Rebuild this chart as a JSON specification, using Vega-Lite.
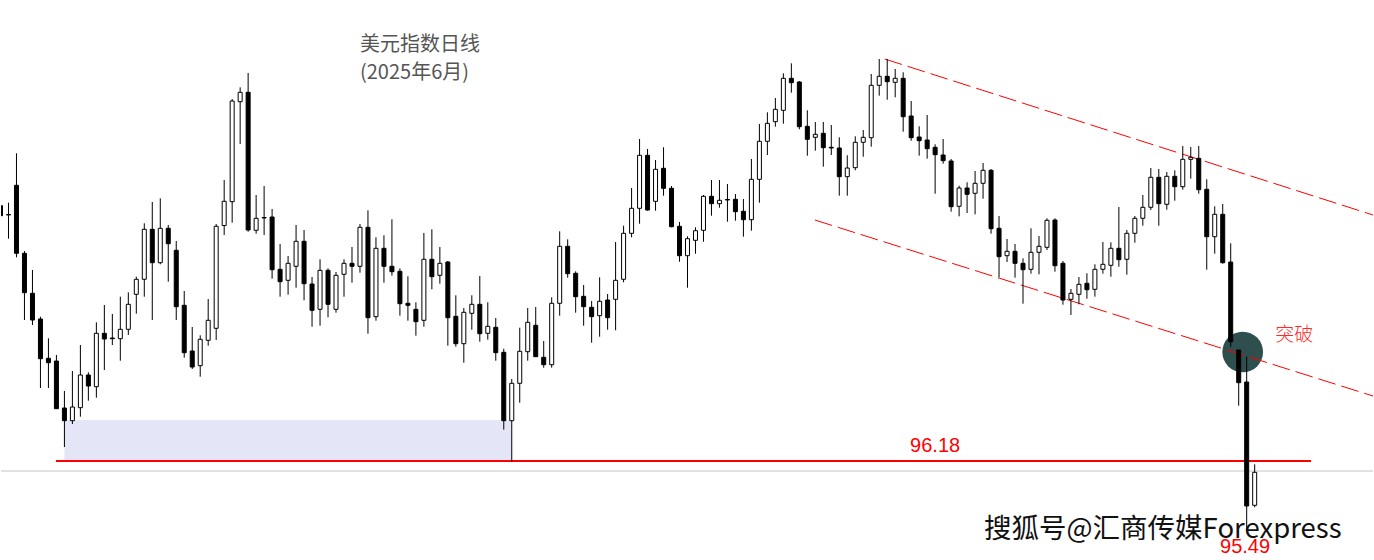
{
  "$schema": "https://vega.github.io/schema/vega-lite/v6.json",
  "width": 1374,
  "height": 560,
  "autosize": {"type": "fit", "contains": "padding"},
  "padding": 0,
  "background": "white",
  "config": {"view": {"stroke": null}, "scale": {"continuousPadding": 0}},
  "datasets": {
    "candles": [
      {"i":-1,"o":98.733,"h":98.74,"l":98.63,"c":98.633},
      {"i":0,"o":98.645,"h":98.763,"l":98.403,"c":98.64},
      {"i":1,"o":98.937,"h":99.257,"l":98.217,"c":98.257},
      {"i":2,"o":98.257,"h":98.28,"l":97.59,"c":97.863},
      {"i":3,"o":97.857,"h":98.09,"l":97.54,"c":97.59},
      {"i":4,"o":97.6,"h":97.623,"l":96.91,"c":97.203},
      {"i":5,"o":97.207,"h":97.407,"l":96.91,"c":97.163},
      {"i":6,"o":97.18,"h":97.24,"l":96.7,"c":96.703},
      {"i":7,"o":96.71,"h":96.88,"l":96.32,"c":96.583},
      {"i":8,"o":96.583,"h":97.08,"l":96.55,"c":96.72},
      {"i":9,"o":96.713,"h":97.34,"l":96.623,"c":97.04},
      {"i":10,"o":97.04,"h":97.067,"l":96.783,"c":96.93},
      {"i":11,"o":96.923,"h":97.567,"l":96.813,"c":97.457},
      {"i":12,"o":97.457,"h":97.74,"l":97.09,"c":97.4},
      {"i":13,"o":97.41,"h":97.65,"l":97.34,"c":97.403},
      {"i":14,"o":97.403,"h":97.823,"l":97.183,"c":97.497},
      {"i":15,"o":97.497,"h":97.867,"l":97.44,"c":97.747},
      {"i":16,"o":97.847,"h":98.023,"l":97.653,"c":97.997},
      {"i":17,"o":97.997,"h":98.557,"l":97.823,"c":98.497},
      {"i":18,"o":98.497,"h":98.77,"l":97.59,"c":98.163},
      {"i":19,"o":98.163,"h":98.807,"l":98.147,"c":98.507},
      {"i":20,"o":98.507,"h":98.54,"l":97.973,"c":98.353},
      {"i":21,"o":98.287,"h":98.38,"l":97.59,"c":97.723},
      {"i":22,"o":97.737,"h":97.88,"l":97.213,"c":97.263},
      {"i":23,"o":97.28,"h":97.52,"l":97.1,"c":97.12},
      {"i":24,"o":97.133,"h":97.437,"l":97.023,"c":97.397},
      {"i":25,"o":97.387,"h":97.8,"l":97.333,"c":97.587},
      {"i":26,"o":97.507,"h":98.55,"l":97.39,"c":98.527},
      {"i":27,"o":98.535,"h":98.99,"l":98.44,"c":98.777},
      {"i":28,"o":98.773,"h":99.8,"l":98.563,"c":99.78},
      {"i":29,"o":99.773,"h":99.917,"l":99.35,"c":99.867},
      {"i":30,"o":99.867,"h":100.06,"l":98.473,"c":98.49},
      {"i":31,"o":98.487,"h":98.84,"l":98.453,"c":98.607},
      {"i":32,"o":98.615,"h":98.93,"l":98.44,"c":98.61},
      {"i":33,"o":98.62,"h":98.7,"l":98.003,"c":98.093},
      {"i":34,"o":98.097,"h":98.35,"l":97.823,"c":97.973},
      {"i":35,"o":97.987,"h":98.23,"l":97.843,"c":98.157},
      {"i":36,"o":98.127,"h":98.54,"l":97.913,"c":98.377},
      {"i":37,"o":98.377,"h":98.49,"l":97.787,"c":97.953},
      {"i":38,"o":97.95,"h":98.02,"l":97.523,"c":97.687},
      {"i":39,"o":97.697,"h":98.197,"l":97.533,"c":98.087},
      {"i":40,"o":98.087,"h":98.107,"l":97.617,"c":97.747},
      {"i":41,"o":97.697,"h":98.07,"l":97.663,"c":98.037},
      {"i":42,"o":98.047,"h":98.197,"l":97.823,"c":98.157},
      {"i":43,"o":98.157,"h":98.32,"l":97.963,"c":98.127},
      {"i":44,"o":98.127,"h":98.55,"l":98.063,"c":98.517},
      {"i":45,"o":98.517,"h":98.687,"l":97.453,"c":97.613},
      {"i":46,"o":97.623,"h":98.417,"l":97.583,"c":98.307},
      {"i":47,"o":98.307,"h":98.437,"l":97.963,"c":98.127},
      {"i":48,"o":98.127,"h":98.597,"l":98.033,"c":98.073},
      {"i":49,"o":98.077,"h":98.107,"l":97.633,"c":97.753},
      {"i":50,"o":97.757,"h":98.027,"l":97.583,"c":97.737},
      {"i":51,"o":97.697,"h":97.767,"l":97.433,"c":97.573},
      {"i":52,"o":97.587,"h":98.46,"l":97.523,"c":98.197},
      {"i":53,"o":98.197,"h":98.497,"l":97.897,"c":98.023},
      {"i":54,"o":98.037,"h":98.32,"l":97.953,"c":98.157},
      {"i":55,"o":98.17,"h":98.18,"l":97.333,"c":97.613},
      {"i":56,"o":97.627,"h":97.837,"l":97.323,"c":97.353},
      {"i":57,"o":97.353,"h":97.71,"l":97.163,"c":97.667},
      {"i":58,"o":97.657,"h":97.837,"l":97.493,"c":97.747},
      {"i":59,"o":97.747,"h":98.03,"l":97.373,"c":97.453},
      {"i":60,"o":97.457,"h":97.767,"l":97.393,"c":97.527},
      {"i":61,"o":97.517,"h":97.61,"l":97.183,"c":97.263},
      {"i":62,"o":97.267,"h":97.303,"l":96.493,"c":96.583},
      {"i":63,"o":96.583,"h":97.0,"l":96.17,"c":96.957},
      {"i":64,"o":96.957,"h":97.513,"l":96.763,"c":97.277},
      {"i":65,"o":97.273,"h":97.71,"l":97.183,"c":97.567},
      {"i":66,"o":97.537,"h":97.72,"l":97.22,"c":97.223},
      {"i":67,"o":97.217,"h":97.38,"l":97.113,"c":97.143},
      {"i":68,"o":97.143,"h":97.817,"l":97.113,"c":97.757},
      {"i":69,"o":97.757,"h":98.477,"l":97.633,"c":98.327},
      {"i":70,"o":98.327,"h":98.397,"l":98.013,"c":98.053},
      {"i":71,"o":98.057,"h":98.077,"l":97.663,"c":97.823},
      {"i":72,"o":97.827,"h":97.94,"l":97.533,"c":97.723},
      {"i":73,"o":97.717,"h":97.78,"l":97.363,"c":97.623},
      {"i":74,"o":97.633,"h":98.017,"l":97.423,"c":97.777},
      {"i":75,"o":97.79,"h":97.85,"l":97.493,"c":97.613},
      {"i":76,"o":97.797,"h":98.37,"l":97.487,"c":97.987},
      {"i":77,"o":97.997,"h":98.533,"l":97.967,"c":98.457},
      {"i":78,"o":98.457,"h":98.91,"l":98.417,"c":98.707},
      {"i":79,"o":98.707,"h":99.4,"l":98.553,"c":99.237},
      {"i":80,"o":99.237,"h":99.3,"l":98.683,"c":98.69},
      {"i":81,"o":98.777,"h":99.19,"l":98.683,"c":99.097},
      {"i":82,"o":99.107,"h":99.317,"l":98.833,"c":98.907},
      {"i":83,"o":98.907,"h":98.93,"l":98.517,"c":98.523},
      {"i":84,"o":98.527,"h":98.57,"l":98.173,"c":98.233},
      {"i":85,"o":98.233,"h":98.427,"l":97.913,"c":98.403},
      {"i":86,"o":98.387,"h":98.517,"l":98.253,"c":98.483},
      {"i":87,"o":98.487,"h":98.84,"l":98.373,"c":98.827},
      {"i":88,"o":98.827,"h":98.99,"l":98.633,"c":98.753},
      {"i":89,"o":98.753,"h":98.99,"l":98.713,"c":98.787},
      {"i":90,"o":98.795,"h":98.95,"l":98.573,"c":98.79},
      {"i":91,"o":98.797,"h":98.85,"l":98.583,"c":98.673},
      {"i":92,"o":98.677,"h":98.8,"l":98.423,"c":98.593},
      {"i":93,"o":98.593,"h":99.2,"l":98.483,"c":98.997},
      {"i":94,"o":98.997,"h":99.55,"l":98.763,"c":99.377},
      {"i":95,"o":99.377,"h":99.667,"l":99.24,"c":99.557},
      {"i":96,"o":99.573,"h":99.81,"l":99.523,"c":99.697},
      {"i":97,"o":99.687,"h":100.057,"l":99.553,"c":100.007},
      {"i":98,"o":100.007,"h":100.157,"l":99.863,"c":99.963},
      {"i":99,"o":99.97,"h":99.98,"l":99.497,"c":99.523},
      {"i":100,"o":99.527,"h":99.687,"l":99.233,"c":99.397},
      {"i":101,"o":99.417,"h":99.57,"l":99.283,"c":99.447},
      {"i":102,"o":99.457,"h":99.57,"l":99.123,"c":99.313},
      {"i":103,"o":99.317,"h":99.54,"l":99.24,"c":99.31},
      {"i":104,"o":99.31,"h":99.417,"l":98.833,"c":99.023},
      {"i":105,"o":99.023,"h":99.237,"l":98.833,"c":99.11},
      {"i":106,"o":99.113,"h":99.427,"l":99.087,"c":99.367},
      {"i":107,"o":99.367,"h":99.49,"l":99.223,"c":99.417},
      {"i":108,"o":99.413,"h":100.05,"l":99.323,"c":99.937},
      {"i":109,"o":99.937,"h":100.2,"l":99.833,"c":100.027},
      {"i":110,"o":100.027,"h":100.2,"l":99.793,"c":99.973},
      {"i":111,"o":99.967,"h":100.1,"l":99.817,"c":100.007},
      {"i":112,"o":100.007,"h":100.067,"l":99.473,"c":99.623},
      {"i":113,"o":99.63,"h":99.78,"l":99.383,"c":99.413},
      {"i":114,"o":99.42,"h":99.527,"l":99.233,"c":99.383},
      {"i":115,"o":99.39,"h":99.64,"l":99.203,"c":99.303},
      {"i":116,"o":99.317,"h":99.347,"l":98.853,"c":99.243},
      {"i":117,"o":99.24,"h":99.4,"l":99.153,"c":99.183},
      {"i":118,"o":99.18,"h":99.2,"l":98.673,"c":98.723},
      {"i":119,"o":98.727,"h":98.933,"l":98.627,"c":98.91},
      {"i":120,"o":98.91,"h":98.967,"l":98.66,"c":98.847},
      {"i":121,"o":98.857,"h":99.08,"l":98.647,"c":98.957},
      {"i":122,"o":98.957,"h":99.16,"l":98.803,"c":99.087},
      {"i":123,"o":99.087,"h":99.1,"l":98.453,"c":98.503},
      {"i":124,"o":98.507,"h":98.63,"l":98.017,"c":98.223},
      {"i":125,"o":98.233,"h":98.4,"l":98.17,"c":98.277},
      {"i":126,"o":98.277,"h":98.35,"l":98.013,"c":98.157},
      {"i":127,"o":98.157,"h":98.207,"l":97.753,"c":98.093},
      {"i":128,"o":98.097,"h":98.507,"l":98.053,"c":98.267},
      {"i":129,"o":98.267,"h":98.43,"l":98.047,"c":98.327},
      {"i":130,"o":98.317,"h":98.607,"l":98.29,"c":98.587},
      {"i":131,"o":98.59,"h":98.607,"l":98.073,"c":98.133},
      {"i":132,"o":98.157,"h":98.18,"l":97.743,"c":97.79},
      {"i":133,"o":97.797,"h":97.9,"l":97.64,"c":97.857},
      {"i":134,"o":97.847,"h":98.02,"l":97.747,"c":97.947},
      {"i":135,"o":97.957,"h":98.057,"l":97.803,"c":97.893},
      {"i":136,"o":97.897,"h":98.147,"l":97.823,"c":98.097},
      {"i":137,"o":98.097,"h":98.37,"l":98.053,"c":98.147},
      {"i":138,"o":98.137,"h":98.367,"l":98.023,"c":98.307},
      {"i":139,"o":98.307,"h":98.72,"l":98.123,"c":98.193},
      {"i":140,"o":98.197,"h":98.49,"l":98.043,"c":98.457},
      {"i":141,"o":98.457,"h":98.63,"l":98.363,"c":98.607},
      {"i":142,"o":98.607,"h":98.84,"l":98.533,"c":98.717},
      {"i":143,"o":98.717,"h":99.11,"l":98.69,"c":99.017},
      {"i":144,"o":99.017,"h":99.1,"l":98.533,"c":98.753},
      {"i":145,"o":98.747,"h":99.07,"l":98.693,"c":99.027},
      {"i":146,"o":99.027,"h":99.087,"l":98.783,"c":98.923},
      {"i":147,"o":98.923,"h":99.33,"l":98.893,"c":99.197},
      {"i":148,"o":99.197,"h":99.32,"l":99.003,"c":99.217},
      {"i":149,"o":99.207,"h":99.33,"l":98.853,"c":98.893},
      {"i":150,"o":98.897,"h":98.997,"l":98.093,"c":98.423},
      {"i":151,"o":98.423,"h":98.727,"l":98.253,"c":98.647},
      {"i":152,"o":98.647,"h":98.75,"l":98.153,"c":98.163},
      {"i":153,"o":98.17,"h":98.357,"l":97.323,"c":97.373},
      {"i":154,"o":97.29,"h":97.29,"l":96.733,"c":96.963},
      {"i":155,"o":96.97,"h":97.223,"l":95.49,"c":95.73},
      {"i":156,"o":95.737,"h":96.147,"l":95.717,"c":96.067}
    ]
  },
  "layer": [
    {
      "data": {"values": [{"i": 7, "i2": 63, "p1": 96.59, "p2": 96.18}]},
      "mark": {"type": "rect", "color": "#e4e6f8"},
      "encoding": {
        "x": {"field": "i", "type": "quantitative", "scale": {"domain": [-0.9375, 170.8125], "nice": false, "zero": false, "padding": 0}, "axis": null},
        "x2": {"field": "i2"},
        "y": {"field": "p1", "type": "quantitative", "scale": {"domain": [95.19, 100.79], "nice": false, "zero": false, "padding": 0}, "axis": null},
        "y2": {"field": "p2"}
      }
    },
    {
      "data": {"values": [{"p": 96.08}]},
      "mark": {"type": "rule", "color": "#c4c4c4", "strokeWidth": 1},
      "encoding": {
        "y": {"field": "p", "type": "quantitative", "scale": {"domain": [95.19, 100.79], "nice": false, "zero": false, "padding": 0}, "axis": null}
      }
    },
    {
      "data": {"values": [{"i": 5.94, "i2": 163.06, "p": 96.18}]},
      "mark": {"type": "rule", "color": "#ff0000", "strokeWidth": 2.2},
      "encoding": {
        "x": {"field": "i", "type": "quantitative", "scale": {"domain": [-0.9375, 170.8125], "nice": false, "zero": false, "padding": 0}, "axis": null},
        "x2": {"field": "i2"},
        "y": {"field": "p", "type": "quantitative", "scale": {"domain": [95.19, 100.79], "nice": false, "zero": false, "padding": 0}, "axis": null}
      }
    },
    {
      "data": {"values": [{"i": 154.5, "p": 97.27}]},
      "mark": {"type": "point", "shape": "circle", "filled": true, "color": "#2f4f4f", "opacity": 1, "size": 1660},
      "encoding": {
        "x": {"field": "i", "type": "quantitative", "scale": {"domain": [-0.9375, 170.8125], "nice": false, "zero": false, "padding": 0}, "axis": null},
        "y": {"field": "p", "type": "quantitative", "scale": {"domain": [95.19, 100.79], "nice": false, "zero": false, "padding": 0}, "axis": null}
      }
    },
    {
      "data": {"values": [
        {"g": "upper", "i": 109.69, "p": 100.2},
        {"g": "upper", "i": 170.8125, "p": 98.64},
        {"g": "lower", "i": 100.94, "p": 98.59},
        {"g": "lower", "i": 170.8125, "p": 96.83}
      ]},
      "mark": {"type": "line", "color": "#ff0000", "strokeWidth": 1, "strokeDash": [18, 6], "clip": true},
      "encoding": {
        "x": {"field": "i", "type": "quantitative", "scale": {"domain": [-0.9375, 170.8125], "nice": false, "zero": false, "padding": 0}, "axis": null},
        "y": {"field": "p", "type": "quantitative", "scale": {"domain": [95.19, 100.79], "nice": false, "zero": false, "padding": 0}, "axis": null},
        "detail": {"field": "g"}
      }
    },
    {
      "data": {"name": "candles"},
      "mark": {"type": "rule", "color": "#000000", "strokeWidth": 1, "clip": true},
      "encoding": {
        "x": {"field": "i", "type": "quantitative", "scale": {"domain": [-0.9375, 170.8125], "nice": false, "zero": false, "padding": 0}, "axis": null},
        "y": {"field": "l", "type": "quantitative", "scale": {"domain": [95.19, 100.79], "nice": false, "zero": false, "padding": 0}, "axis": null},
        "y2": {"field": "h"}
      }
    },
    {
      "data": {"name": "candles"},
      "mark": {"type": "bar", "size": 4, "stroke": "#000000", "strokeWidth": 1, "clip": true},
      "encoding": {
        "x": {"field": "i", "type": "quantitative", "scale": {"domain": [-0.9375, 170.8125], "nice": false, "zero": false, "padding": 0}, "axis": null},
        "y": {"field": "o", "type": "quantitative", "scale": {"domain": [95.19, 100.79], "nice": false, "zero": false, "padding": 0}, "axis": null},
        "y2": {"field": "c"},
        "fill": {"condition": {"test": "datum.c > datum.o", "value": "#ffffff"}, "value": "#000000"}
      }
    },
    {
      "data": {"values": [{"i": 44.0, "p": 100.34, "t": "美元指数日线"}, {"i": 44.0, "p": 100.06, "t": "(2025年6月)"}]},
      "mark": {"type": "text", "align": "left", "baseline": "middle", "font": "Noto Sans CJK SC", "fontSize": 20, "color": "#555555"},
      "encoding": {
        "x": {"field": "i", "type": "quantitative", "scale": {"domain": [-0.9375, 170.8125], "nice": false, "zero": false, "padding": 0}, "axis": null},
        "y": {"field": "p", "type": "quantitative", "scale": {"domain": [95.19, 100.79], "nice": false, "zero": false, "padding": 0}, "axis": null},
        "text": {"field": "t"}
      }
    },
    {
      "data": {"values": [{"i": 116.0, "p": 96.33, "t": "96.18"}, {"i": 154.8, "p": 95.32, "t": "95.49"}]},
      "mark": {"type": "text", "align": "center", "baseline": "middle", "font": "Liberation Sans", "fontSize": 20, "color": "#ff0000"},
      "encoding": {
        "x": {"field": "i", "type": "quantitative", "scale": {"domain": [-0.9375, 170.8125], "nice": false, "zero": false, "padding": 0}, "axis": null},
        "y": {"field": "p", "type": "quantitative", "scale": {"domain": [95.19, 100.79], "nice": false, "zero": false, "padding": 0}, "axis": null},
        "text": {"field": "t"}
      }
    },
    {
      "data": {"values": [{"i": 160.94, "p": 97.44, "t": "突破"}]},
      "mark": {"type": "text", "align": "center", "baseline": "middle", "font": "Noto Sans CJK SC", "fontSize": 19, "fontWeight": 300, "color": "#ff2a2a"},
      "encoding": {
        "x": {"field": "i", "type": "quantitative", "scale": {"domain": [-0.9375, 170.8125], "nice": false, "zero": false, "padding": 0}, "axis": null},
        "y": {"field": "p", "type": "quantitative", "scale": {"domain": [95.19, 100.79], "nice": false, "zero": false, "padding": 0}, "axis": null},
        "text": {"field": "t"}
      }
    },
    {
      "data": {"values": [{"i": 144.5, "p": 95.49, "t": "搜狐号@汇商传媒Forexpress"}]},
      "mark": {"type": "text", "align": "center", "baseline": "middle", "font": "Noto Sans CJK SC", "fontSize": 27.5, "color": "#111111"},
      "encoding": {
        "x": {"field": "i", "type": "quantitative", "scale": {"domain": [-0.9375, 170.8125], "nice": false, "zero": false, "padding": 0}, "axis": null},
        "y": {"field": "p", "type": "quantitative", "scale": {"domain": [95.19, 100.79], "nice": false, "zero": false, "padding": 0}, "axis": null},
        "text": {"field": "t"}
      }
    }
  ]
}
